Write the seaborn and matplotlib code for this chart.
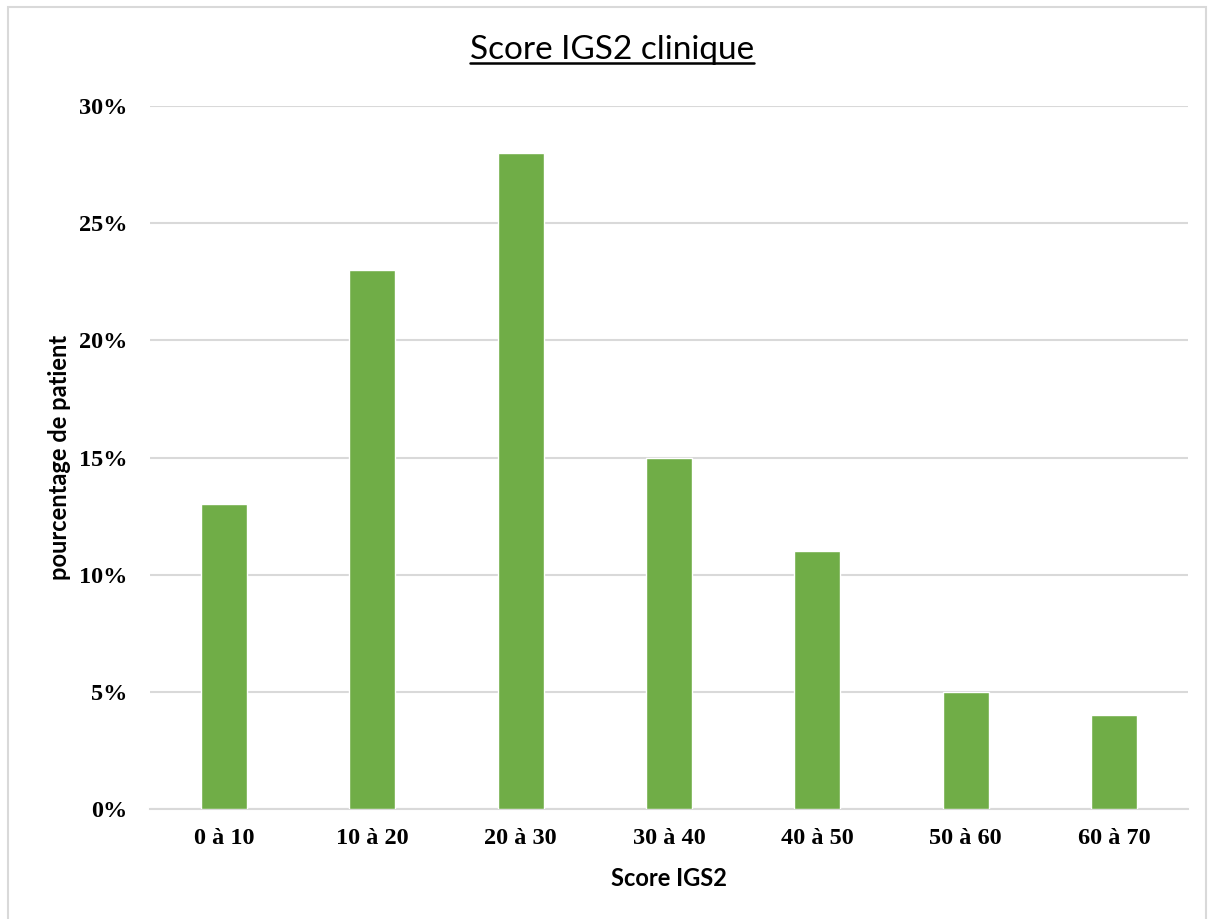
"""
Bar chart: distribution of IGS2 clinical score (percentage of patients).
"""

import matplotlib
matplotlib.use("Agg")
import matplotlib.pyplot as plt
from matplotlib.lines import Line2D
from matplotlib.patches import Rectangle
import pandas as pd
import seaborn as sns


# =============================================
# DATA
# =============================================

categories = ['0 à 10', '10 à 20', '20 à 30', '30 à 40', '40 à 50', '50 à 60', '60 à 70']
percentages = [13, 23, 28, 15, 11, 5, 4]
y_ticks = [0, 5, 10, 15, 20, 25, 30]
y_tick_labels = ['0%', '5%', '10%', '15%', '20%', '25%', '30%']

df = pd.DataFrame({'score': categories, 'pct': percentages})

# =============================================
# PLOT
# =============================================

sns.set_theme(style="white")
plt.rcParams['font.family'] = ['Lato', 'DejaVu Sans']
plt.rcParams['text.color'] = 'black'
plt.rcParams['axes.labelcolor'] = 'black'
plt.rcParams['xtick.color'] = 'black'
plt.rcParams['ytick.color'] = 'black'

W, H = 1214, 919
fig = plt.figure(figsize=(W / 100, H / 100), dpi=100)
ax = fig.add_axes([150 / W, 1 - 809 / H, (1188 - 150) / W, (809 - 106) / H])

sns.barplot(data=df, x='score', y='pct', color='#70AD47', width=0.31,
            saturation=1, ax=ax, zorder=3)

ax.set_ylim(0, 30)
ax.set_xlim(-0.5, len(categories) - 0.5)
ax.set_yticks(y_ticks)
ax.set_yticklabels(y_tick_labels)
ax.yaxis.grid(True, color='#d9d9d9', linewidth=1.5, zorder=0)
ax.set_axisbelow(True)

for s in ['left', 'right', 'top']:
    ax.spines[s].set_visible(False)
ax.spines['bottom'].set_color('#d9d9d9')
ax.spines['bottom'].set_linewidth(1.5)
ax.tick_params(axis='both', length=0)
ax.tick_params(axis='y', pad=16)
ax.tick_params(axis='x', pad=14)

for lbl in ax.get_xticklabels() + ax.get_yticklabels():
    lbl.set_fontfamily('Liberation Serif')
    lbl.set_fontweight('bold')
    lbl.set_fontsize(17.5)
    lbl.set_color('black')

ax.set_xlabel('Score IGS2', fontsize=17, fontweight='bold', labelpad=13)
ax.set_ylabel('pourcentage de patient', fontsize=17, fontweight='bold')
ax.yaxis.set_label_coords(-79 / (1188 - 150), 0.5)

# underlined title
title = fig.text(612 / W, 1 - 50 / H, 'Score IGS2 clinique', fontsize=24,
                 ha='center', va='center', color='black')
fig.canvas.draw()
bb = title.get_window_extent().transformed(fig.transFigure.inverted())
fig.add_artist(Line2D([bb.x0, bb.x1], [bb.y0 + 0.002, bb.y0 + 0.002],
                      color='black', linewidth=1.8, transform=fig.transFigure))

# light frame around the chart
fig.add_artist(Rectangle((8 / W, -0.01), (1206 - 8) / W, 1 - 7 / H + 0.01,
                         transform=fig.transFigure, fill=False,
                         edgecolor='#d9d9d9', linewidth=1.5))

fig.savefig('out.png', dpi=100)
plt.close(fig)
